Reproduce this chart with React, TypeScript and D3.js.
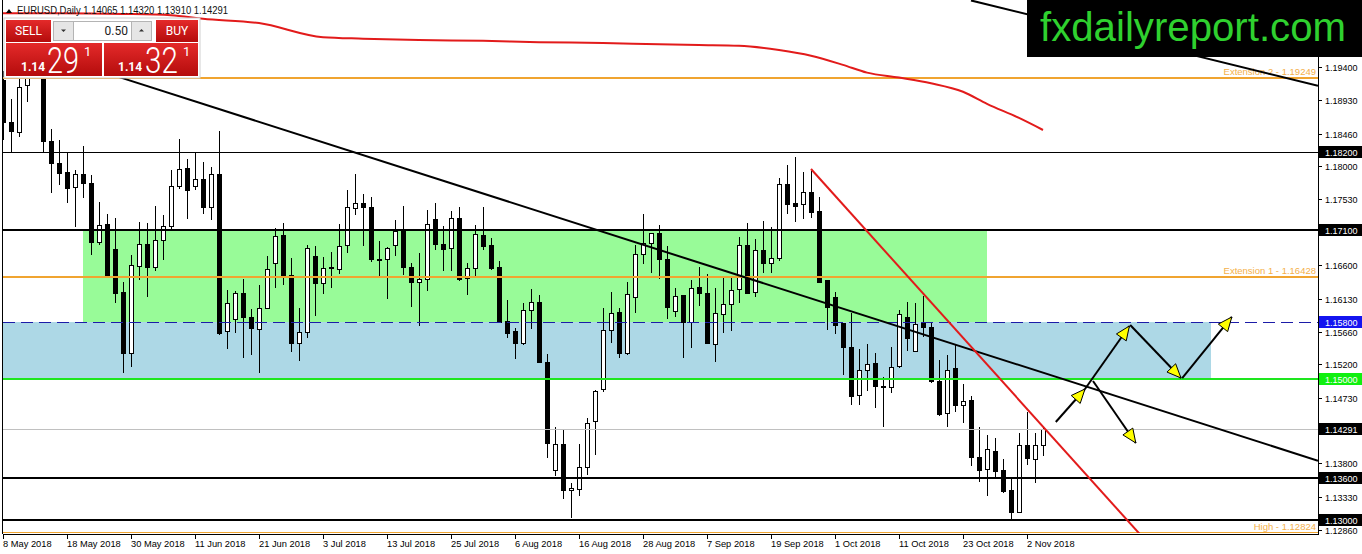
import * as d3 from "d3";

// ─── Data: EURUSD daily, 8 May – 6 Nov 2018 ──────────────────────────────────
// [open, high, low, close]
const candles: [number, number, number, number][] = [
  [1.1922, 1.1935, 1.1837, 1.1862],
  [1.1862, 1.1895, 1.182, 1.185],
  [1.1848, 1.1925, 1.1841, 1.1912],
  [1.1915, 1.1955, 1.189, 1.1942],
  [1.1942, 1.1996, 1.1925, 1.1925],
  [1.1925, 1.193, 1.1819, 1.1835],
  [1.1835, 1.1852, 1.1762, 1.1804],
  [1.1804, 1.1837, 1.1773, 1.179],
  [1.1792, 1.182, 1.1748, 1.1769],
  [1.177, 1.1794, 1.1714, 1.1789],
  [1.1789, 1.1828, 1.1755, 1.1776],
  [1.1776, 1.1787, 1.1674, 1.1693],
  [1.1693, 1.1749, 1.1689, 1.1717],
  [1.1718, 1.1732, 1.1643, 1.1645],
  [1.1683, 1.1727, 1.1607, 1.1621],
  [1.1622, 1.1636, 1.1508, 1.1536],
  [1.1536, 1.1674, 1.1516, 1.166],
  [1.1659, 1.1721, 1.1639, 1.169],
  [1.169, 1.172, 1.1615, 1.1658],
  [1.1658, 1.1744, 1.1652, 1.1696],
  [1.1696, 1.1731, 1.1668, 1.1716],
  [1.1716, 1.1794, 1.171, 1.1772],
  [1.1772, 1.1838, 1.1767, 1.1796],
  [1.1797, 1.181, 1.1725, 1.1766],
  [1.1772, 1.1819, 1.1766, 1.1782],
  [1.1782, 1.1806, 1.1732, 1.1742],
  [1.1742, 1.1799, 1.1724, 1.1789],
  [1.1789, 1.185, 1.1561, 1.1564],
  [1.1567, 1.1625, 1.1542, 1.1607],
  [1.1584, 1.1624, 1.1564, 1.1621],
  [1.1621, 1.1641, 1.1529, 1.1587],
  [1.1587, 1.1598, 1.1533, 1.1571],
  [1.157, 1.1632, 1.1508, 1.16],
  [1.16, 1.1673, 1.1598, 1.1655],
  [1.1663, 1.1713, 1.1628, 1.1701],
  [1.1703, 1.172, 1.1632, 1.1645],
  [1.1646, 1.167, 1.1537, 1.155],
  [1.155, 1.16, 1.1525, 1.1566],
  [1.1566, 1.1689, 1.1557, 1.1684],
  [1.1673, 1.1687, 1.1588, 1.1635],
  [1.1635, 1.1672, 1.1619, 1.1656],
  [1.1656, 1.1679, 1.1628, 1.1657],
  [1.1655, 1.1718, 1.1648, 1.1687],
  [1.1689, 1.1766, 1.1677, 1.1742],
  [1.1741, 1.1789, 1.1731, 1.1748],
  [1.1748, 1.1761, 1.1687, 1.1742],
  [1.1742, 1.1756, 1.1665, 1.1669],
  [1.1669, 1.1694, 1.1645, 1.1668],
  [1.1669, 1.1686, 1.1612, 1.1684],
  [1.1689, 1.1724, 1.1673, 1.1708],
  [1.1708, 1.1744, 1.1646, 1.1657],
  [1.1657, 1.1663, 1.1601, 1.1636],
  [1.1637, 1.1677, 1.1574, 1.164],
  [1.164, 1.1738, 1.1624, 1.1718],
  [1.1725, 1.1748, 1.1682, 1.169],
  [1.169, 1.1715, 1.1652, 1.1683],
  [1.1684, 1.1737, 1.1652, 1.1727],
  [1.1727, 1.1742, 1.1638, 1.1641],
  [1.1642, 1.1663, 1.1618, 1.1656],
  [1.1656, 1.1717, 1.1645, 1.1704],
  [1.1703, 1.1742, 1.1682, 1.1687],
  [1.1689, 1.1698, 1.1653, 1.1656],
  [1.1658, 1.1666, 1.1578, 1.158],
  [1.1581, 1.1611, 1.1557, 1.1564],
  [1.1567, 1.1571, 1.1528, 1.155],
  [1.155, 1.1607, 1.1547, 1.1597],
  [1.1597, 1.1626, 1.157, 1.1608],
  [1.1608, 1.1618, 1.1523, 1.1523],
  [1.1523, 1.1535, 1.1388, 1.1409],
  [1.1371, 1.1432, 1.1362, 1.1408],
  [1.1408, 1.1429, 1.133, 1.1343],
  [1.1343, 1.1352, 1.1303, 1.1345],
  [1.1344, 1.1408, 1.1334, 1.1375],
  [1.1375, 1.1444, 1.1364, 1.1437],
  [1.144, 1.1484, 1.1392, 1.1482],
  [1.1485, 1.16, 1.1481, 1.1569],
  [1.1569, 1.1622, 1.155, 1.1593],
  [1.1594, 1.16, 1.1529, 1.1536],
  [1.1536, 1.1636, 1.1533, 1.1619],
  [1.1615, 1.1689, 1.1593, 1.1676],
  [1.1676, 1.1732, 1.1662, 1.1691],
  [1.1691, 1.1705, 1.1649, 1.1705],
  [1.1705, 1.1717, 1.1641, 1.1669],
  [1.1669, 1.1687, 1.1584, 1.1601],
  [1.1595, 1.1628, 1.1587, 1.1617],
  [1.1618, 1.1618, 1.1529, 1.158],
  [1.158, 1.1639, 1.1543, 1.1628],
  [1.1629, 1.1658, 1.1602, 1.1621],
  [1.1621, 1.1648, 1.1549, 1.155],
  [1.1549, 1.1628, 1.1523, 1.1593],
  [1.1591, 1.1642, 1.1564, 1.1605],
  [1.1605, 1.1643, 1.1567, 1.1625],
  [1.1626, 1.17, 1.1607, 1.1689],
  [1.1689, 1.172, 1.1619, 1.1621],
  [1.1622, 1.1697, 1.1615, 1.1682],
  [1.1682, 1.1722, 1.1649, 1.1663],
  [1.1663, 1.1714, 1.1649, 1.167],
  [1.167, 1.1783, 1.1666, 1.1775],
  [1.1775, 1.1802, 1.1732, 1.1747],
  [1.1748, 1.1813, 1.1721, 1.1744],
  [1.1746, 1.1792, 1.1725, 1.1763],
  [1.1763, 1.1793, 1.1727, 1.1735],
  [1.1737, 1.1756, 1.1635, 1.1636],
  [1.1639, 1.1639, 1.1569, 1.1601],
  [1.1615, 1.1622, 1.1563, 1.1576],
  [1.1578, 1.1578, 1.1505, 1.1545],
  [1.1545, 1.1593, 1.1463, 1.1475],
  [1.1477, 1.1542, 1.1463, 1.1512],
  [1.1512, 1.1549, 1.1482, 1.1521],
  [1.1522, 1.1536, 1.1458, 1.1489],
  [1.1488, 1.1502, 1.1432, 1.1489],
  [1.1488, 1.1545, 1.148, 1.1516],
  [1.1517, 1.1597, 1.1515, 1.1591],
  [1.1587, 1.1608, 1.1539, 1.1557],
  [1.1539, 1.1607, 1.1537, 1.1577],
  [1.1578, 1.1617, 1.1558, 1.1573],
  [1.1573, 1.1578, 1.1494, 1.1497],
  [1.1497, 1.1526, 1.1447, 1.145],
  [1.1451, 1.1533, 1.1432, 1.1512],
  [1.1515, 1.1547, 1.1453, 1.1463],
  [1.1463, 1.1492, 1.1437, 1.1468],
  [1.147, 1.1475, 1.1376, 1.1389],
  [1.1389, 1.1432, 1.1354, 1.1371],
  [1.1372, 1.142, 1.1334, 1.14],
  [1.1398, 1.1416, 1.1361, 1.1369],
  [1.1371, 1.1386, 1.1338, 1.1341],
  [1.1343, 1.1358, 1.1302, 1.1311],
  [1.1311, 1.1423, 1.1311, 1.1406],
  [1.1406, 1.1453, 1.1378, 1.1388],
  [1.1387, 1.1423, 1.1352, 1.1406],
  [1.14065, 1.1432, 1.1391, 1.14291],
];

// bar index → date label
const dateTicks: [number, string][] = [
  [0, "8 May 2018"], [8, "18 May 2018"], [16, "30 May 2018"], [24, "11 Jun 2018"],
  [32, "21 Jun 2018"], [40, "3 Jul 2018"], [48, "13 Jul 2018"], [56, "25 Jul 2018"],
  [64, "6 Aug 2018"], [72, "16 Aug 2018"], [80, "28 Aug 2018"], [88, "7 Sep 2018"],
  [96, "19 Sep 2018"], [104, "1 Oct 2018"], [112, "11 Oct 2018"], [120, "23 Oct 2018"],
  [128, "2 Nov 2018"],
];

const priceTicks = [
  1.194, 1.1893, 1.1846, 1.18, 1.1753, 1.166, 1.1613, 1.1566, 1.152, 1.1473, 1.138, 1.1333, 1.1286,
];

const thinLevels = [1.182];
const thickLevels = [1.171, 1.136, 1.13];
const dashedLevel = 1.158;
const greenLevel = 1.15;
const bid = 1.14291;
const ask = 1.14321;
const fiboLevels: [string, number][] = [
  ["Extension 2", 1.19249],
  ["Extension 1", 1.16428],
  ["High", 1.12824],
];

// zones: [fromBar, toBar, lowPrice, highPrice]
const greenZone = [10, 123, 1.158, 1.171];
const blueZone = [-1, 151, 1.15, 1.158];

// rays to the right: [bar1, price1, bar2, price2]
const blackRays = [
  [12, 1.19349, 130, 1.15082],
  [121, 1.2034, 130, 1.2009],
];
const redRay = [101, 1.17959, 127, 1.14697];

// moving average
const maBars = [0, 7, 15, 21, 25, 32, 40, 45, 52, 60, 67, 75, 82, 87, 92, 97, 101, 105, 108, 112, 116, 120, 123, 127, 130];
const maValues = [
  1.2016, 1.2016, 1.2015, 1.2013, 1.2008, 1.2002, 1.1982, 1.198, 1.1978, 1.1977, 1.1975, 1.1974,
  1.1972, 1.1971, 1.197, 1.1964, 1.1956, 1.1943, 1.1932, 1.1925, 1.1917, 1.1905, 1.1888, 1.1868, 1.1851,
];

// projection arrows: [bar1, price1, bar2, price2]
const arrows = [
  [131.6, 1.14386, 135.25, 1.14852],
  [135.25, 1.14852, 140.8, 1.15742],
  [140.9, 1.15756, 147.25, 1.15007],
  [147.4, 1.15007, 153.6, 1.15869],
  [136.25, 1.14965, 141.6, 1.14089],
];

const AXIS_FONT = "'Liberation Sans', Arial, sans-serif";
const UI_FONT = "Roboto, 'Noto Sans', sans-serif";

function arrowHead(x1: number, y1: number, x2: number, y2: number) {
  const len = Math.hypot(x2 - x1, y2 - y1);
  const ux = (x2 - x1) / len;
  const uy = (y2 - y1) / len;
  const bx = x2 - ux * 14;
  const by = y2 - uy * 14;
  return `${x2},${y2} ${bx - uy * 6},${by + ux * 6} ${bx + uy * 6},${by - ux * 6}`;
}

// ─── One-click trading panel ────────────────────────────────────────────────
function TradePanel() {
  const parts = (s: string) => [s.slice(0, 4), s.slice(4, 6), s.slice(6)];
  const [bBig, bPips, bPt] = parts(bid.toFixed(5));
  const [aBig, aPips, aPt] = parts(ask.toFixed(5));
  return (
    <g fontFamily={UI_FONT}>
      <defs>
        <linearGradient id="redGrad" x1="0" y1="0" x2="0" y2="1">
          <stop offset="0" stopColor="#e42a2a" />
          <stop offset="1" stopColor="#b40c0c" />
        </linearGradient>
      </defs>
      <rect x={4} y={18} width={196} height={60} fill="#fff" stroke="#d0d0d0" />
      <rect x={6} y={20} width={45} height={22} fill="url(#redGrad)" />
      <rect x={156} y={20} width={42} height={22} fill="url(#redGrad)" />
      <rect x={6} y={43} width={96} height={33} fill="url(#redGrad)" />
      <rect x={104} y={43} width={94} height={33} fill="url(#redGrad)" />
      <rect x={53.5} y={21.5} width={20} height={19} fill="#e6e6e6" stroke="#b4b4b4" />
      <rect x={73.5} y={21.5} width={58} height={19} fill="#fff" stroke="#b4b4b4" />
      <rect x={131.5} y={21.5} width={20} height={19} fill="#e6e6e6" stroke="#b4b4b4" />
      <path d="M61,29.5h5l-2.5,2.5z" fill="#333" />
      <path d="M139,31.5h5l-2.5,-2.5z" fill="#333" />
      <text x={28.5} y={34.5} fontSize={12} fill="#fff" textAnchor="middle">SELL</text>
      <text x={128} y={34.5} fontSize={12} fill="#222" textAnchor="end">{"0.50"}</text>
      <text x={177} y={34.5} fontSize={12} fill="#fff" textAnchor="middle">BUY</text>
      <text x={21} y={71} fontSize={12} fontWeight="bold" fill="#fff">{bBig}</text>
      <text transform="translate(47,72.5) scale(0.78,1)" fontSize={37} fontWeight={300} fill="#fff">{bPips}</text>
      <text x={84} y={56} fontSize={13} fill="#fff">{bPt}</text>
      <text x={118} y={71} fontSize={12} fontWeight="bold" fill="#fff">{aBig}</text>
      <text transform="translate(145,72.5) scale(0.8,1)" fontSize={37} fontWeight={300} fill="#fff">{aPips}</text>
      <text x={183} y={56} fontSize={13} fill="#fff">{aPt}</text>
    </g>
  );
}

// ─── Main chart ─────────────────────────────────────────────────────────────
export default function App() {
  const W = 1362;
  const H = 554;
  const L = 3;
  const R = 1318;
  const B = 533;

  const x = d3.scaleLinear().domain([0, candles.length - 1]).range([3, 1043]);
  const y = d3.scaleLinear().domain([1.12818, 1.20346]).range([B, 0]);
  const px = (b: number) => Math.round(x(b));
  const py = (p: number) => Math.round(y(p));

  const ray = ([b1, p1, b2, p2]: number[]) => {
    const x1 = x(b1), y1 = y(p1), x2 = x(b2), y2 = y(p2);
    const yEnd = y1 + ((R - x1) * (y2 - y1)) / (x2 - x1);
    return `M${x1},${y1}L${R},${yEnd}`;
  };

  const maPath =
    d3
      .line<number>()
      .x((_, i) => x(maBars[i]))
      .y((v) => y(v))
      .curve(d3.curveMonotoneX)(maValues) ?? "";

  const zoneRect = ([b1, b2, lo, hi]: number[], fill: string) => (
    <rect x={px(b1)} y={py(hi)} width={px(b2) - px(b1)} height={py(lo) - py(hi)} fill={fill} />
  );

  const priceLabel = (p: number, bg: string, key: string) => (
    <g key={key}>
      <rect x={1319} y={py(p) - 6} width={43} height={12} fill={bg} />
      <text x={1325} y={py(p) + 3.5} fontSize={9} fill="#fff">{p.toFixed(5)}</text>
    </g>
  );

  return (
    <div style={{ position: "fixed", left: 0, top: 0, width: W, height: H, background: "#fff" }}>
      <svg width={W} height={H} viewBox={`0 0 ${W} ${H}`} style={{ display: "block" }} fontFamily={AXIS_FONT}>
        <defs>
          <clipPath id="plot">
            <rect x={L} y={0} width={R - L} height={B} />
          </clipPath>
        </defs>
        <rect width={W} height={H} fill="#fff" />

        <g clipPath="url(#plot)">
          {/* zones */}
          {zoneRect(blueZone, "#add8e6")}
          {zoneRect(greenZone, "#98fb98")}

          {/* candles */}
          <g shapeRendering="crispEdges">
            {candles.map(([o, h, l, c], i) => {
              const cx = px(i);
              const top = py(Math.max(o, c));
              const bot = py(Math.min(o, c));
              const bull = c >= o;
              return (
                <g key={i}>
                  <line x1={cx + 0.5} x2={cx + 0.5} y1={py(h)} y2={py(l)} stroke="#000" />
                  <rect
                    x={cx - 1.5}
                    y={top + 0.5}
                    width={4}
                    height={Math.max(0, bot - top)}
                    fill={bull ? "#fff" : "#000"}
                    stroke="#000"
                  />
                </g>
              );
            })}
          </g>

          {/* horizontal levels */}
          <g shapeRendering="crispEdges">
            {thinLevels.map((p) => (
              <line key={p} x1={L} x2={R} y1={py(p) + 0.5} y2={py(p) + 0.5} stroke="#000" />
            ))}
            {thickLevels.map((p) => (
              <line key={p} x1={L} x2={R} y1={py(p)} y2={py(p)} stroke="#000" strokeWidth={2} />
            ))}
            {fiboLevels.map(([, p]) => (
              <line key={p} x1={L} x2={R} y1={py(p)} y2={py(p)} stroke="#f0a430" strokeWidth={2} />
            ))}
            <line x1={L} x2={R} y1={py(bid) + 0.5} y2={py(bid) + 0.5} stroke="#c0c0c0" />
            <line x1={L} x2={R} y1={py(dashedLevel) + 0.5} y2={py(dashedLevel) + 0.5} stroke="#1c1ca8" strokeDasharray="12 6" />
            <line x1={L} x2={R} y1={py(greenLevel)} y2={py(greenLevel)} stroke="#1ee61e" strokeWidth={2} />
          </g>
          {fiboLevels.map(([name, p]) => (
            <text key={name} x={1316} y={py(p) - 3} fontSize={9.5} fill="#f4b04a" textAnchor="end">
              {`${name} - ${p.toFixed(5)}`}
            </text>
          ))}

          {/* trend lines and moving average */}
          {blackRays.map((r, i) => (
            <path key={i} d={ray(r)} stroke="#000" strokeWidth={2} fill="none" />
          ))}
          <path d={ray(redRay)} stroke="#e21b1b" strokeWidth={2} fill="none" />
          <path d={maPath} stroke="#e21b1b" strokeWidth={2} fill="none" />
        </g>

        {/* projection arrows */}
        {arrows.map(([b1, p1, b2, p2], i) => {
          const x1 = x(b1), y1 = y(p1), x2 = x(b2), y2 = y(p2);
          return (
            <g key={i}>
              <line x1={x1} y1={y1} x2={x2} y2={y2} stroke="#000" strokeWidth={2} />
              <polygon points={arrowHead(x1, y1, x2, y2)} fill="#ffff00" stroke="#000" strokeWidth={1} />
            </g>
          );
        })}

        {/* frame */}
        <g shapeRendering="crispEdges">
          <line x1={L - 0.5} x2={L - 0.5} y1={0} y2={B + 1} stroke="#000" />
          <line x1={L} x2={R} y1={B + 1.5} y2={B + 1.5} stroke="#000" />
          <line x1={R + 0.5} x2={R + 0.5} y1={0} y2={B + 2} stroke="#000" />
        </g>

        {/* price axis */}
        {priceTicks.map((p) => (
          <g key={p}>
            <line x1={R} x2={R + 4} y1={py(p) + 0.5} y2={py(p) + 0.5} stroke="#000" />
            <text x={1325} y={py(p) + 3.5} fontSize={9} fill="#000">{p.toFixed(5)}</text>
          </g>
        ))}
        {thinLevels.concat(thickLevels).map((p) => priceLabel(p, "#000", `k${p}`))}
        {priceLabel(dashedLevel, "#1414f0", "d")}
        {priceLabel(greenLevel, "#10f010", "g")}
        {priceLabel(bid, "#000", "b")}

        {/* time axis */}
        {dateTicks.map(([b, label]) => (
          <g key={label}>
            <line x1={px(b) + 0.5} x2={px(b) + 0.5} y1={B + 2} y2={B + 6} stroke="#000" />
            <text x={px(b)} y={547} fontSize={9.3} fill="#000">{label}</text>
          </g>
        ))}

        {/* title */}
        <path d="M6,13l3,-4l3,4z" fill="#000" />
        <text x={17} y={14} fontSize={10} fill="#111" textLength={211} lengthAdjust="spacingAndGlyphs">
          {`EURUSD,Daily  ${candles[candles.length - 1].map((v) => v.toFixed(5)).join(" ")}`}
        </text>

        <TradePanel />

        {/* watermark */}
        <rect x={1027} y={0} width={335} height={57} fill="#000" />
        <text x={1040} y={41} fontSize={40} fill="#2fd12f" textLength={306} lengthAdjust="spacingAndGlyphs">
          fxdailyreport.com
        </text>
      </svg>
    </div>
  );
}
